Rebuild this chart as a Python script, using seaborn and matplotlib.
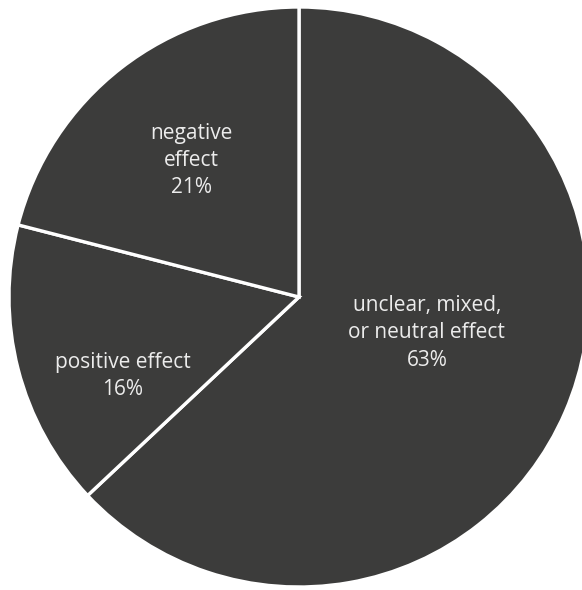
import matplotlib
matplotlib.use("Agg")
import matplotlib.pyplot as plt
import seaborn as sns

sns.set_theme(style="white")
plt.rcParams["font.family"] = ["Open Sans", "DejaVu Sans"]

# data
labels = ["unclear, mixed,\nor neutral effect", "positive effect", "negative\neffect"]
shares = [63, 16, 21]
label_pos = [(0.441, -0.124), (-0.607, -0.272), (-0.372, 0.472)]

fig = plt.figure(figsize=(5.82, 5.90), dpi=100)
ax = fig.add_axes([0, 0, 1, 1])

ax.pie(shares, startangle=90, counterclock=False, radius=1.0,
       colors=["#3c3c3b"] * len(shares),
       wedgeprops=dict(edgecolor="white", linewidth=2.4))

for lab, val, (x, y) in zip(labels, shares, label_pos):
    ax.text(x, y, f"{lab}\n{val}%", ha="center", va="center",
            color="#ececec", fontsize=15, linespacing=1.38)

# centre at (299, 297) px, radius 290 px
ax.set_xlim(-299 / 290, (582 - 299) / 290)
ax.set_ylim(-(590 - 297) / 290, 297 / 290)
ax.set_aspect("equal")
ax.axis("off")

fig.savefig("out.png", dpi=100)
